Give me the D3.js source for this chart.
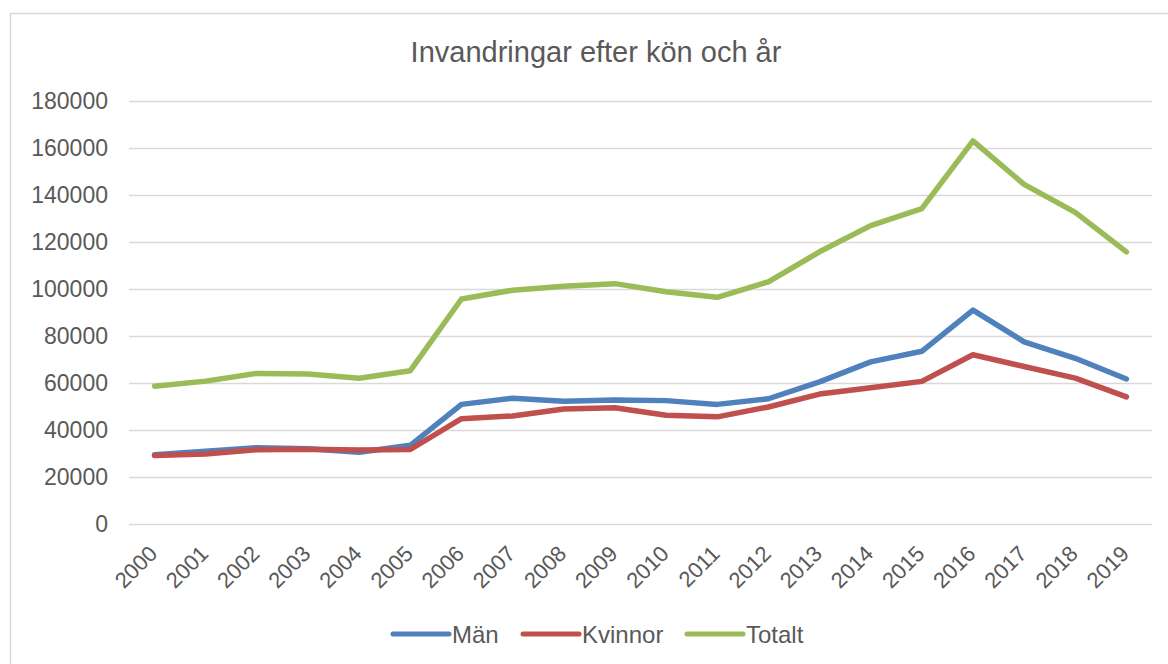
<!DOCTYPE html>
<html lang="sv">
<head>
  <meta charset="UTF-8">
  <title>Invandringar efter kön och år</title>
  <script src="https://d3js.org/d3.v7.min.js"></script>
  <style>
    body { margin: 0; background: #fff; }
    svg text { font-family: 'Liberation Sans', Arial, sans-serif; fill: #595959; }
  </style>
</head>
<body>
<div id="chart"></div>
<script>
// Data
const years = ["2000","2001","2002","2003","2004","2005","2006","2007","2008","2009",
               "2010","2011","2012","2013","2014","2015","2016","2017","2018","2019"];
const man = [29500, 31000, 32500, 32000, 30500, 33500, 50900, 53500, 52200, 52800,
             52500, 50900, 53300, 60500, 69000, 73500, 91000, 77500, 70500, 61700];
const kvinnor = [29200, 29800, 31600, 31800, 31500, 31700, 44800, 46000, 48900, 49500,
                 46300, 45600, 49800, 55300, 58000, 60700, 72000, 67000, 62100, 54100];
const totalt = [58659, 60795, 64087, 63795, 62028, 65229, 95750, 99485, 101171, 102280,
                98801, 96467, 103059, 115845, 126966, 134240, 163005, 144489, 132602, 115805];
const yTicks = [0, 20000, 40000, 60000, 80000, 100000, 120000, 140000, 160000, 180000];

const series = [
  { name: "Män", values: man, color: "#4f81bd" },
  { name: "Kvinnor", values: kvinnor, color: "#c0504d" },
  { name: "Totalt", values: totalt, color: "#9bbb59" }
];

const W = 1168, H = 664;
const plot = { left: 129, right: 1152, top: 101, bottom: 524 };

const svg = d3.select("#chart").append("svg")
  .attr("width", W).attr("height", H);

// chart frame
svg.append("rect")
  .attr("x", 10.5).attr("y", 13.5)
  .attr("width", 1200).attr("height", 700)
  .attr("fill", "#fff").attr("stroke", "#d9d9d9").attr("stroke-width", 1.5);

// title
svg.append("text")
  .attr("x", 596).attr("y", 62)
  .attr("text-anchor", "middle")
  .style("font-size", "29px")
  .text("Invandringar efter kön och år");

const x = d3.scaleBand().domain(years).range([plot.left, plot.right]);
const y = d3.scaleLinear().domain([0, 180000]).range([plot.bottom, plot.top]);

// gridlines + y labels
const yAxis = d3.axisLeft(y).tickValues(yTicks).tickFormat(d3.format("d"))
  .tickSize(-(plot.right - plot.left)).tickPadding(21);
const gy = svg.append("g").attr("transform", `translate(${plot.left},0)`).call(yAxis);
gy.select(".domain").remove();
gy.selectAll(".tick line").attr("stroke", "#d9d9d9").attr("stroke-width", 1.5);
gy.selectAll(".tick text").style("font-size", "23px").attr("fill", "#595959");

// x labels
const xAxis = d3.axisBottom(x).tickSize(0).tickPadding(0);
const gx = svg.append("g").attr("transform", `translate(0,${plot.bottom})`).call(xAxis);
gx.select(".domain").remove();
gx.selectAll(".tick text")
  .style("font-size", "22px")
  .attr("fill", "#595959")
  .attr("text-anchor", "end")
  .attr("dy", 0)
  .attr("y", 0)
  .attr("transform", "translate(4,31) rotate(-45)");

// lines
const line = d3.line()
  .x((d, i) => x(years[i]) + x.bandwidth() / 2)
  .y(d => y(d));

series.forEach(s => {
  svg.append("path")
    .datum(s.values)
    .attr("fill", "none")
    .attr("stroke", s.color)
    .attr("stroke-width", 5.5)
    .attr("stroke-linejoin", "round")
    .attr("stroke-linecap", "round")
    .attr("d", line);
});

// legend
const legendX = [393, 523, 687];
const legend = svg.append("g");
series.forEach((s, i) => {
  const g = legend.append("g").attr("transform", `translate(${legendX[i]},634)`);
  g.append("line")
    .attr("x1", 0).attr("x2", 56)
    .attr("stroke", s.color).attr("stroke-width", 5).attr("stroke-linecap", "round");
  g.append("text")
    .attr("x", 59).attr("y", 8.5)
    .style("font-size", "24px")
    .text(s.name);
});
</script>
</body>
</html>
